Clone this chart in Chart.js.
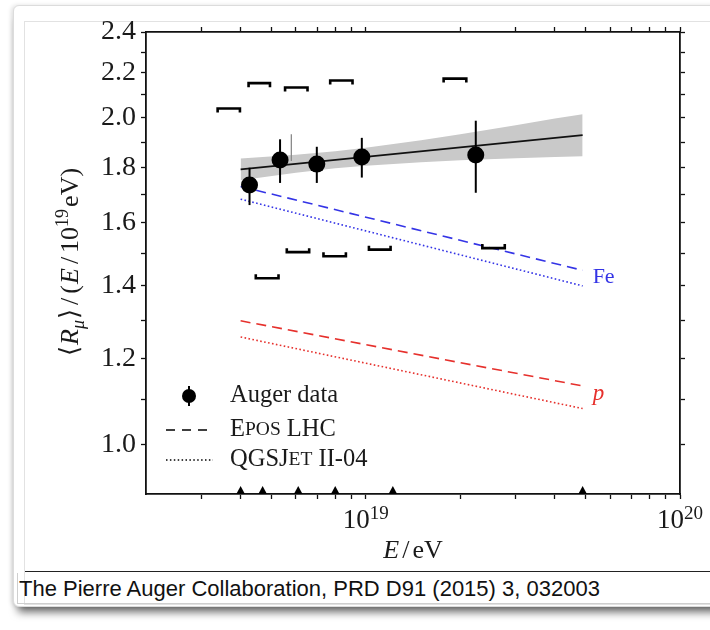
<!DOCTYPE html>
<html>
<head>
<meta charset="utf-8">
<title>Muon content vs energy</title>
<script src="https://cdn.jsdelivr.net/npm/chart.js"></script>
<style>
  html, body { margin: 0; padding: 0; background: #fff; }
  body { position: relative; width: 710px; height: 630px; overflow: hidden; }
  .card { position: absolute; left: 13px; top: 5px; width: 760px; height: 600px;
          border: 1px solid #dcdcdc; border-radius: 6px;
          box-shadow: 0 10px 9px -5px rgba(0,0,0,.6), -2px 0 4px rgba(0,0,0,.12); background: #fff; }
  .panel { position: absolute; left: 24px; top: 21px; width: 700px; height: 582px; border: 1px solid #e2e2e2; }
  .rule { position: absolute; left: 25px; top: 571px; width: 700px; border-top: 1.5px solid #222; }
  .caption { position: absolute; left: 17px; top: 573px; width: 700px; height: 30px;
             border-left: 1px solid #cfcfcf; border-bottom: 1px solid #cfcfcf;
             font: 22px "Liberation Sans", Arial, sans-serif; line-height: 31px; color: #111; padding-left: 1px; }
  canvas { position: absolute; left: 0; top: 0; }
</style>
</head>
<body>
<div class="card"></div>
<div class="panel"></div>
<div class="rule"></div>
<div class="caption">The Pierre Auger Collaboration, PRD D91 (2015) 3, 032003</div>
<canvas id="chart" width="710" height="630"></canvas>
<script>
// Auger data: mean energy per bin and <R_mu>/(E/1e19 eV) with stat. errors
const energy = [4.27e18, 5.34e18, 6.99e18, 9.72e18, 2.24e19];
const rmu = [1.734, 1.829, 1.813, 1.841, 1.848];
const rmuLow = [1.662, 1.742, 1.742, 1.762, 1.706];
const rmuHigh = [1.799, 1.911, 1.881, 1.917, 1.988];

// systematic brackets (upper and lower), energy span + level
const sysUpFrom = [3.38e18, 4.24e18, 5.54e18, 7.71e18, 1.77e19];
const sysUpTo = [3.98e18, 4.96e18, 6.53e18, 9.08e18, 2.09e19];
const sysUp = [2.040, 2.153, 2.133, 2.165, 2.174];
const sysDownFrom = [4.47e18, 5.61e18, 7.34e18, 1.024e19, 2.35e19];
const sysDownTo = [5.28e18, 6.61e18, 8.65e18, 1.20e19, 2.77e19];
const sysDown = [1.423, 1.504, 1.491, 1.512, 1.517];

// stray thin bar next to the second point
const thinBarEnergy = 5.8e18;
const thinBarRange = [1.825, 1.932];

// power-law fit and its uncertainty band
const fitEnergy = [4.0e18, 4.9e19];
const fitValue = [1.793, 1.928];
const bandEnergy = [4.0e18, 6e18, 8e18, 1e19, 1.5e19, 2e19, 3e19, 4e19, 4.9e19];
const bandHigh = [1.835, 1.849, 1.863, 1.877, 1.907, 1.932, 1.969, 1.997, 2.016];
const bandLow = [1.752, 1.780, 1.797, 1.807, 1.820, 1.828, 1.836, 1.841, 1.844];

// simulations (EPOS LHC dashed, QGSJet II-04 dotted)
const modelEnergy = [4.0e18, 4.9e19];
const feEpos = [1.729, 1.447];
const feQgsjet = [1.683, 1.400];
const pEpos = [1.300, 1.132];
const pQgsjet = [1.256, 1.079];

// energy bin edges marked on the axis
const binEdges = [4.0e18, 4.7e18, 6.1e18, 8.0e18, 1.22e19, 4.9e19];

// axes
const xRange = [2e18, 1e20];
const yRange = [0.9, 2.4];
const xTicks = [3e18, 4e18, 5e18, 6e18, 7e18, 8e18, 9e18, 1e19, 2e19, 3e19, 4e19, 5e19, 6e19, 7e19, 8e19, 9e19, 1e20];
const xTickLabels = [19, 20];
const yTicks = [1.0, 1.1, 1.2, 1.3, 1.4, 1.5, 1.6, 1.7, 1.8, 1.9, 2.0, 2.1, 2.2, 2.3, 2.4];
const yTickLabels = ['1.0', '1.2', '1.4', '1.6', '1.8', '2.0', '2.2', '2.4'];

const legendLabels = ['Auger data', 'EPOS LHC', 'QGSJET II-04'];

const SERIF = '"Liberation Serif", "DejaVu Serif", serif';
const blue = '#3434e6';
const red = '#e6302c';
const ink = '#111';

const pts = (xs, ys) => xs.map((v, i) => ({ x: v, y: ys[i] }));

// draws a list of text runs one after another
function drawRuns(ctx, runs, x, y, align) {
  let total = 0;
  runs.forEach(r => {
    ctx.font = r.font;
    r.w = ctx.measureText(r.text).width + (r.gap || 0);
    total += r.w;
  });
  let cx = align === 'center' ? x - total / 2 : x;
  runs.forEach(r => {
    ctx.font = r.font;
    ctx.fillText(r.text, cx, y + (r.dy || 0));
    cx += r.w;
  });
}

const decorations = {
  id: 'decorations',
  afterDatasetsDraw(chart) {
    const { ctx, chartArea: area, scales: { x, y } } = chart;
    ctx.save();

    // statistical error bars
    ctx.strokeStyle = '#000';
    ctx.lineWidth = 2;
    energy.forEach((e, i) => {
      const px = x.getPixelForValue(e);
      ctx.beginPath();
      ctx.moveTo(px, y.getPixelForValue(rmuLow[i]));
      ctx.lineTo(px, y.getPixelForValue(rmuHigh[i]));
      ctx.stroke();
    });

    // systematic brackets
    ctx.lineWidth = 2.6;
    ctx.lineJoin = 'miter';
    const bracket = (from, to, v, leg) => {
      const x1 = x.getPixelForValue(from), x2 = x.getPixelForValue(to);
      const py = y.getPixelForValue(v);
      ctx.beginPath();
      ctx.moveTo(x1, py + leg);
      ctx.lineTo(x1, py);
      ctx.lineTo(x2, py);
      ctx.lineTo(x2, py + leg);
      ctx.stroke();
    };
    sysUp.forEach((v, i) => bracket(sysUpFrom[i], sysUpTo[i], v, 4));
    sysDown.forEach((v, i) => bracket(sysDownFrom[i], sysDownTo[i], v, -4));

    // bin edge markers sitting on the bottom axis
    ctx.fillStyle = '#000';
    binEdges.forEach(e => {
      const px = x.getPixelForValue(e);
      ctx.beginPath();
      ctx.moveTo(px, area.bottom - 8);
      ctx.lineTo(px - 4.3, area.bottom);
      ctx.lineTo(px + 4.3, area.bottom);
      ctx.closePath();
      ctx.fill();
    });

    // primary labels at the end of the model lines
    ctx.textBaseline = 'middle';
    ctx.fillStyle = blue;
    ctx.font = `22px ${SERIF}`;
    const endX = x.getPixelForValue(modelEnergy[1]) + 10;
    ctx.fillText('Fe', endX, (y.getPixelForValue(feEpos[1]) + y.getPixelForValue(feQgsjet[1])) / 2 - 1);
    ctx.fillStyle = red;
    ctx.font = `italic 23px ${SERIF}`;
    ctx.fillText('p', endX, (y.getPixelForValue(pEpos[1]) + y.getPixelForValue(pQgsjet[1])) / 2 - 3);
    ctx.restore();
  },
  afterDraw(chart) {
    const { ctx, chartArea: area, scales: { x } } = chart;
    ctx.save();
    ctx.fillStyle = '#1a1a1a';
    ctx.textBaseline = 'alphabetic';

    // decade labels 10^n
    xTickLabels.forEach(n => {
      const px = x.getPixelForValue(Math.pow(10, n));
      drawRuns(ctx, [
        { text: '10', font: `27px ${SERIF}` },
        { text: String(n), font: `19px ${SERIF}`, dy: -9 }
      ], px, area.bottom + 34, 'center');
    });

    // x title
    drawRuns(ctx, [
      { text: 'E', font: `italic 26px ${SERIF}`, gap: 3 },
      { text: '/', font: `26px ${SERIF}`, gap: 3 },
      { text: 'eV', font: `26px ${SERIF}` }
    ], (area.left + area.right) / 2, area.bottom + 64, 'center');

    // y title, rotated
    ctx.save();
    ctx.translate(area.left - 68, 262);
    ctx.rotate(-Math.PI / 2);
    const F = 26;
    drawRuns(ctx, [
      { text: '⟨', font: `${F}px ${SERIF}`, gap: 1 },
      { text: 'R', font: `italic ${F}px ${SERIF}` },
      { text: 'μ', font: `italic 18px ${SERIF}`, dy: 6, gap: 1 },
      { text: '⟩', font: `${F}px ${SERIF}`, gap: 4 },
      { text: '/', font: `${F}px ${SERIF}`, gap: 4 },
      { text: '(', font: `${F}px ${SERIF}`, gap: 1 },
      { text: 'E', font: `italic ${F}px ${SERIF}`, gap: 4 },
      { text: '/', font: `${F}px ${SERIF}`, gap: 4 },
      { text: '10', font: `${F}px ${SERIF}` },
      { text: '19', font: `18px ${SERIF}`, dy: -10, gap: 2 },
      { text: 'eV)', font: `${F}px ${SERIF}` }
    ], 0, 0, 'center');
    ctx.restore();

    // legend
    const lx = area.left + 20, tx = area.left + 84;
    const rows = [area.bottom - 98, area.bottom - 64, area.bottom - 34];
    ctx.fillStyle = '#000';
    ctx.strokeStyle = '#000';
    ctx.lineWidth = 2;
    ctx.beginPath();
    ctx.moveTo(lx + 23, rows[0] - 10);
    ctx.lineTo(lx + 23, rows[0] + 10);
    ctx.stroke();
    ctx.beginPath();
    ctx.arc(lx + 23, rows[0], 7, 0, Math.PI * 2);
    ctx.fill();
    ctx.lineWidth = 1.6;
    ctx.setLineDash([9, 7]);
    ctx.beginPath();
    ctx.moveTo(lx, rows[1]);
    ctx.lineTo(lx + 45, rows[1]);
    ctx.stroke();
    ctx.setLineDash([1.5, 2.4]);
    ctx.beginPath();
    ctx.moveTo(lx, rows[2]);
    ctx.lineTo(lx + 47, rows[2]);
    ctx.stroke();
    ctx.setLineDash([]);

    ctx.fillStyle = '#1a1a1a';
    ctx.textBaseline = 'middle';
    const big = `24.5px ${SERIF}`, small = `19.5px ${SERIF}`;
    drawRuns(ctx, [{ text: legendLabels[0], font: big }], tx, rows[0], 'left');
    // small caps spelled out by run size
    drawRuns(ctx, [
      { text: 'E', font: big }, { text: 'POS', font: small }, { text: ' LHC', font: big }
    ], tx, rows[1], 'left');
    drawRuns(ctx, [
      { text: 'QGSJ', font: big }, { text: 'ET', font: small }, { text: ' II-04', font: big }
    ], tx, rows[2], 'left');
    ctx.restore();
  }
};

const axisBorder = { display: true, color: ink, width: 1.8 };
const tickGrid = { drawOnChartArea: false, drawTicks: true, tickLength: 5, tickWidth: 1.3, tickColor: ink };
const setXTicks = s => { s.ticks = xTicks.map(v => ({ value: v })); };
const setYTicks = s => { s.ticks = yTicks.map(v => ({ value: v })); };

const line = (data, color, dash, order) => ({
  type: 'line', data, borderColor: color, borderWidth: 1.6, borderDash: dash,
  pointRadius: 0, fill: false, order
});

new Chart(document.getElementById('chart'), {
  type: 'line',
  data: {
    datasets: [
      {
        label: legendLabels[0], data: pts(energy, rmu), showLine: false,
        pointRadius: 8.5, pointBackgroundColor: '#000', pointBorderWidth: 0, order: 0
      },
      line(pts(fitEnergy, fitValue), ink, [], 1),
      {
        label: 'band', data: pts(bandEnergy, bandHigh), borderColor: 'rgba(0,0,0,0)',
        pointRadius: 0, backgroundColor: '#c9c9c9', fill: '+1', order: 6
      },
      {
        label: 'band low', data: pts(bandEnergy, bandLow), borderColor: 'rgba(0,0,0,0)',
        pointRadius: 0, fill: false, order: 6
      },
      line(pts(modelEnergy, feEpos), blue, [10, 6], 2),
      line(pts(modelEnergy, feQgsjet), blue, [1.6, 2.4], 2),
      line(pts(modelEnergy, pEpos), red, [10, 6], 2),
      line(pts(modelEnergy, pQgsjet), red, [1.6, 2.4], 2),
      {
        label: 'thin bar', data: pts([thinBarEnergy, thinBarEnergy], thinBarRange),
        borderColor: '#8a8a8a', borderWidth: 1.3, pointRadius: 0, fill: false, order: 3
      }
    ]
  },
  options: {
    responsive: false,
    animation: false,
    layout: { padding: 0 },
    plugins: { legend: { display: false }, tooltip: { enabled: false } },
    scales: {
      x: {
        type: 'logarithmic', position: 'bottom', min: xRange[0], max: xRange[1],
        border: axisBorder, grid: tickGrid,
        ticks: { display: false, autoSkip: false },
        afterBuildTicks: setXTicks,
        afterFit: s => { s.height = 136; }
      },
      xTop: {
        type: 'logarithmic', position: 'top', min: xRange[0], max: xRange[1],
        border: axisBorder, grid: tickGrid,
        ticks: { display: false, autoSkip: false },
        afterBuildTicks: setXTicks,
        afterFit: s => { s.height = 32; }
      },
      y: {
        type: 'logarithmic', position: 'left', min: yRange[0], max: yRange[1],
        border: axisBorder, grid: tickGrid,
        ticks: {
          autoSkip: false, padding: 5, color: '#1a1a1a',
          font: { family: SERIF, size: 28 },
          callback: v => {
            const s = Number(v).toFixed(1);
            return yTickLabels.includes(s) ? s : '';
          }
        },
        afterBuildTicks: setYTicks,
        afterFit: s => { s.width = 146; }
      },
      yRight: {
        type: 'logarithmic', position: 'right', min: yRange[0], max: yRange[1],
        border: axisBorder, grid: tickGrid,
        ticks: { display: false, autoSkip: false },
        afterBuildTicks: setYTicks,
        afterFit: s => { s.width = 30; }
      }
    }
  },
  plugins: [decorations]
});
</script>
</body>
</html>
